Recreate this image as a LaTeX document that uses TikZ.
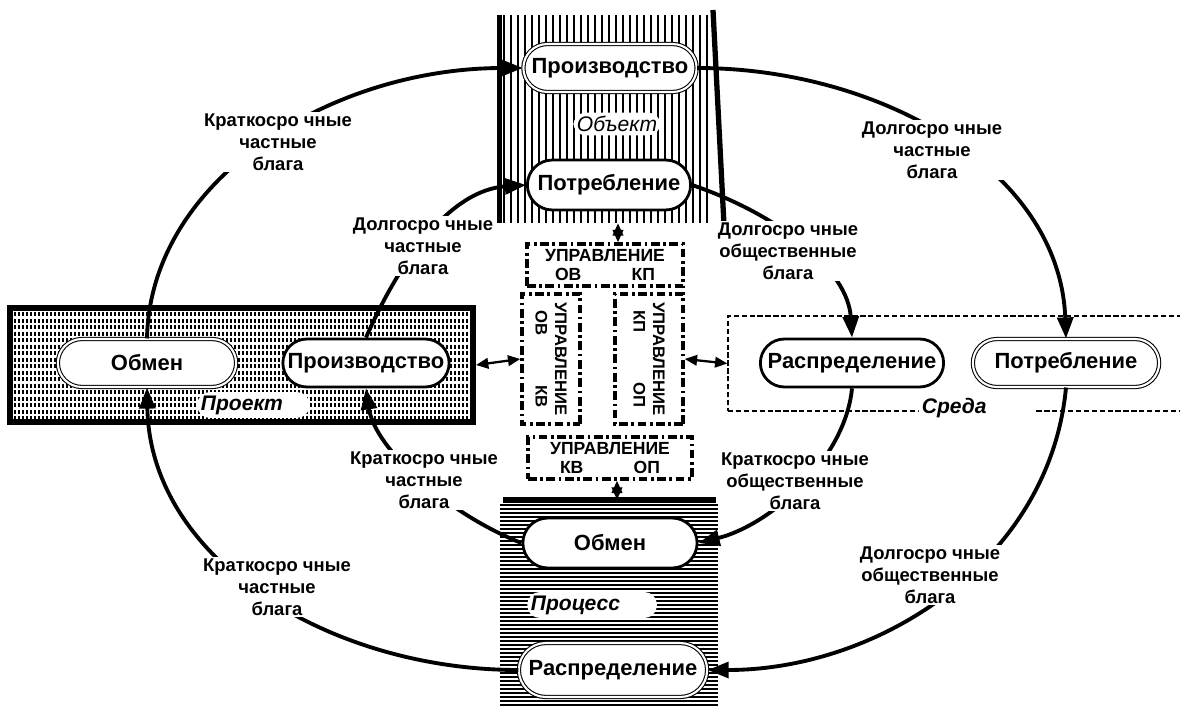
\documentclass[tikz,border=0pt]{standalone}
\usepackage{fontspec}
\setmainfont{Liberation Sans}
\usetikzlibrary{arrows.meta, patterns, shapes.misc}

\tikzset{
  stage/.style={rounded rectangle, draw, line width=1.6pt, fill=white, minimum height=0.96cm,
    font=\fontsize{12.5}{14}\selectfont\bfseries},
  stagedbl/.style={stage, line width=0.6pt, double, double distance=1.2pt},
  goods/.style={fill=white, align=center, inner sep=1pt, font=\fontsize{10.5}{12.5}\selectfont\bfseries},
  flow/.style={line width=2.2pt, -{Triangle[length=12pt,width=9pt]}},
  link/.style={line width=1.3pt, {Triangle[length=7pt,width=6pt]}-{Triangle[length=7pt,width=6pt]}},
  upr/.style={draw, line width=2pt, dash pattern=on 5pt off 2pt on 1.5pt off 2pt, align=center,
    inner sep=1pt, font=\fontsize{10}{11}\selectfont\bfseries},
  uprv/.style={upr, rotate=-90, minimum width=2.6cm, font=\fontsize{9.5}{11}\selectfont\bfseries},
  area/.style={fill=white, rounded corners=7pt, anchor=west, inner sep=2pt,
    font=\fontsize{12}{14}\selectfont\bfseries\itshape}
}

\begin{document}
\begin{tikzpicture}[x=0.02cm, y=-0.02cm]
  \useasboundingbox (0,0) rectangle (1180,706);

  % regions
  \node[minimum width=4.3cm, minimum height=4.16cm] (obj) at (607,119) {};
  \foreach \x in {504,511,...,711}
    \draw[line width=0.9pt] (\x,15) -- (\x,223);
  \draw[line width=3pt] (obj.north west) -- (obj.south west);
  \draw[line width=3pt] (713,10) -- (724,225);

  \node[minimum width=4.36cm, minimum height=4.12cm] (proc) at (609,603) {};
  \foreach \y in {505,509,...,705}
    \draw[line width=1pt] (500,\y) -- (718,\y);
  \draw[line width=3pt] (503,500) -- (716,500);

  \foreach \x in {15,19,...,469}
    \draw[line width=0.9pt, dash pattern=on 2.5pt off 1.2pt] (\x,312) -- (\x,419);
  \node[draw, line width=3.5pt, minimum width=9.26cm, minimum height=2.28cm] (proj) at (241.5,365) {};
  \node[draw, line width=0.8pt, dash pattern=on 3pt off 1.5pt, minimum width=9.44cm, minimum height=1.9cm] (sreda) at (964,363.5) {};

  % stages
  \node[stagedbl, minimum width=3.7cm] (proizT) at (610,68) {Производство};
  \node[stage, minimum width=3.5cm, minimum height=1cm] (potrT) at (609,185) {Потребление};
  \node[stagedbl, minimum width=3.8cm] (obmL) at (147,363) {Обмен};
  \node[stage, minimum width=3.56cm] (proizL) at (366,363) {Производство};
  \node[stage, minimum width=3.9cm] (raspR) at (852,363) {Распределение};
  \node[stagedbl, minimum width=3.96cm] (potrR) at (1066,363) {Потребление};
  \node[stage, minimum width=3.72cm, minimum height=1cm] (obmB) at (610,543) {Обмен};
  \node[stagedbl, minimum width=4cm, minimum height=1.08cm] (raspB) at (613,670) {Распределение};

  % control
  \node[upr, minimum width=3.12cm, minimum height=0.84cm] (uprT) at (605,265) {УПРАВЛЕНИЕ\\\makebox[2cm]{ОВ\hfill КП}};
  \node[uprv, minimum height=1.16cm] (uprL) at (551,359) {УПРАВЛЕНИЕ\\\makebox[1.95cm]{ОВ\hfill КВ}};
  \node[uprv, minimum height=1.36cm] (uprR) at (649,359) {УПРАВЛЕНИЕ\\\makebox[1.95cm]{КП\hfill ОП}};
  \node[upr, minimum width=3.28cm, minimum height=0.84cm] (uprB) at (610,458) {УПРАВЛЕНИЕ\\\makebox[2cm]{КВ\hfill ОП}};

  \draw[link] (proj.east) -- (uprL.south);
  \draw[link] (uprR.north) -- (sreda.west);
  \draw[link] ([xshift=0.26cm]uprT.north) -- ([xshift=0.26cm]uprT.north |- obj.south);
  \draw[link] ([xshift=0.14cm]uprB.south) -- ([xshift=0.14cm]uprB.south |- proc.north);

  % outer cycle
  \draw[flow] (obmL.north) .. controls (150,180) and (330,68) .. (proizT.west);
  \draw[flow] (proizT.east) .. controls (880,68) and (1060,170) .. (potrR.north);
  \draw[flow] (potrR.south) .. controls (1050,560) and (880,670) .. (raspB.east);
  \draw[flow] (raspB.west) .. controls (330,670) and (150,560) .. (obmL.south);

  % inner cycle
  \draw[flow] (proizL.north) .. controls (400,260) and (450,190) .. (potrT.west);
  \draw[flow] (potrT.east) .. controls (780,215) and (848,270) .. (raspR.north);
  \draw[flow] (raspR.south) .. controls (845,460) and (770,525) .. (obmB.east);
  \draw[flow] (obmB.west) .. controls (450,515) and (375,450) .. (proizL.south);

  % labels
  \node[goods] (g1) at (278,142) {Краткосро чные\\частные\\блага};
  \node[goods] (g2) at (423,246) {Долгосро чные\\частные\\блага};
  \node[goods] (g3) at (932,150) {Долгосро чные\\частные\\блага};
  \node[goods] (g4) at (788,251) {Долгосро чные\\общественные\\блага};
  \node[goods] (g5) at (795,481) {Краткосро чные\\общественные\\блага};
  \node[goods] (g6) at (930,575) {Долгосро чные\\общественные\\блага};
  \node[goods] (g7) at (424,480) {Краткосро чные\\частные\\блага};
  \node[goods] (g8) at (277,587) {Краткосро чные\\частные\\блага};

  \node[area, anchor=center, font=\fontsize{12}{14}\selectfont\itshape] (objlbl) at (617,124) {Объект};
  \node[area, text width=2.1cm] (projlbl) at (197,405) {Проект};
  \node[area, text width=2.45cm] (proclbl) at (527,605) {Процесс};
  \node[area, text width=2.2cm] (sredalbl) at (918,408) {Среда};
\end{tikzpicture}
\end{document}
